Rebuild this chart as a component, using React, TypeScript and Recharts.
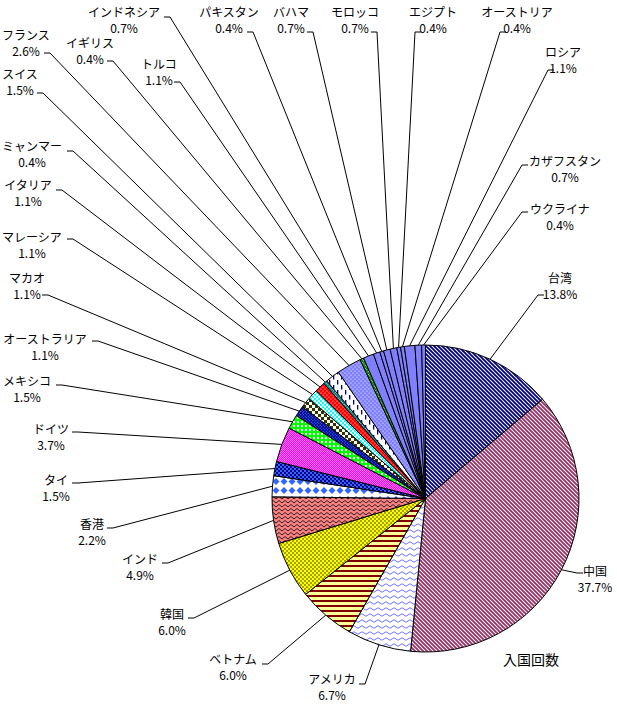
import { PieChart, Pie, Cell } from "recharts";

// 入国回数 by country (%), clockwise from 12 o'clock
const SERIES_NAME = "入国回数";
const COUNTRIES = [
  "台湾", "中国", "アメリカ", "ベトナム", "韓国", "インド", "香港", "タイ",
  "ドイツ", "メキシコ", "オーストラリア", "マカオ", "マレーシア", "イタリア",
  "ミャンマー", "スイス", "フランス", "イギリス", "トルコ", "インドネシア",
  "パキスタン", "バハマ", "モロッコ", "エジプト", "オーストリア", "ロシア",
  "カザフスタン", "ウクライナ",
];
const SHARES = [
  13.8, 37.7, 6.7, 6.0, 6.0, 4.9, 2.2, 1.5,
  3.7, 1.5, 1.1, 1.1, 1.1, 1.1,
  0.4, 1.5, 2.6, 0.4, 1.1, 0.7,
  0.4, 0.7, 0.7, 0.4, 0.4, 1.1,
  0.7, 0.4,
];

const data = COUNTRIES.map((name, i) => ({ name, value: SHARES[i] }));

const FILLS = [
  "url(#p-taiwan)", "url(#p-china)", "url(#p-usa)", "url(#p-vn)", "url(#p-kr)",
  "url(#p-in)", "url(#p-hk)", "url(#p-th)", "url(#p-de)", "url(#p-mx)",
  "url(#p-au)", "url(#p-mo)", "url(#p-my)", "url(#p-it)", "url(#p-mm)",
  "url(#p-ch)", "url(#p-fr)", "url(#p-uk)",
];
const PLAIN = "#8080FF";

// label block: text centre x, first line y, start of leader (kx, ky), text side of the tick
const LABELS = [
  { x: 560, y: 277, kx: 538, ky: 295, side: "R" },
  { x: 595, y: 570, kx: 577, ky: 573, side: "R" },
  { x: 332, y: 678, kx: 365, ky: 684, side: "L" },
  { x: 233, y: 658, kx: 268, ky: 664, side: "L" },
  { x: 172, y: 613, kx: 194, ky: 618, side: "L" },
  { x: 140, y: 558, kx: 168, ky: 563, side: "L" },
  { x: 92, y: 523, kx: 113, ky: 528, side: "L" },
  { x: 56, y: 479, kx: 78, ky: 483, side: "L" },
  { x: 51, y: 428, kx: 78, ky: 432, side: "L" },
  { x: 27, y: 380, kx: 62, ky: 385, side: "L" },
  { x: 45, y: 338, kx: 98, ky: 341, side: "L" },
  { x: 27, y: 277, kx: 48, ky: 295, side: "L" },
  { x: 32, y: 236, kx: 73, ky: 239, side: "L" },
  { x: 28, y: 184, kx: 62, ky: 190, side: "L" },
  { x: 32, y: 145, kx: 73, ky: 151, side: "L" },
  { x: 20, y: 73, kx: 43, ky: 93, side: "L" },
  { x: 26, y: 34, kx: 50, ky: 53, side: "L" },
  { x: 90, y: 42, kx: 113, ky: 61, side: "L" },
  { x: 159, y: 63, kx: 180, ky: 82, side: "L" },
  { x: 124, y: 11, kx: 170, ky: 17, side: "L" },
  { x: 229, y: 11, kx: 253, ky: 32, side: "L" },
  { x: 291, y: 11, kx: 313, ky: 32, side: "L" },
  { x: 355, y: 11, kx: 377, ky: 32, side: "L" },
  { x: 433, y: 11, kx: 415, ky: 32, side: "R" },
  { x: 517, y: 11, kx: 500, ky: 32, side: "R" },
  { x: 563, y: 51, kx: 548, ky: 70, side: "R" },
  { x: 565, y: 160, kx: 522, ky: 165, side: "R" },
  { x: 560, y: 208, kx: 522, ky: 212, side: "R" },
];

const FONT = "'Noto Sans CJK JP', sans-serif";
const RAD = Math.PI / 180;

const renderLabel = (p: any) => {
  const L = LABELS[p.index];
  const ex = p.cx + p.outerRadius * Math.cos(-p.midAngle * RAD);
  const ey = p.cy + p.outerRadius * Math.sin(-p.midAngle * RAD);
  const tx = L.side === "L" ? L.kx - 6 : L.kx + 6;
  return (
    <g key={`lbl-${p.index}`}>
      <polyline
        points={`${tx},${L.ky} ${L.kx},${L.ky} ${ex},${ey}`}
        fill="none"
        stroke="#000"
        strokeWidth={1}
      />
      <text x={L.x} y={L.y} textAnchor="middle" dominantBaseline="central"
        fontFamily={FONT} fontSize={12} fill="#000">
        {p.name}
      </text>
      <text x={L.x} y={L.y + 16} textAnchor="middle" dominantBaseline="central"
        fontFamily={FONT} fontSize={12} fill="#000">
        {`${Number(p.value).toFixed(1)}%`}
      </text>
    </g>
  );
};

const Dots = ({ id, bg, fg, size = 4, r = 0.7 }: any) => (
  <pattern id={id} width={size} height={size} patternUnits="userSpaceOnUse">
    <rect width={size} height={size} fill={bg} />
    <circle cx={size / 4} cy={size / 4} r={r} fill={fg} />
    <circle cx={(3 * size) / 4} cy={(3 * size) / 4} r={r} fill={fg} />
  </pattern>
);

const Checker = ({ id, a, b, size }: any) => (
  <pattern id={id} width={size * 2} height={size * 2} patternUnits="userSpaceOnUse">
    <rect width={size * 2} height={size * 2} fill={b} />
    <rect width={size} height={size} fill={a} />
    <rect x={size} y={size} width={size} height={size} fill={a} />
  </pattern>
);

const Diag = ({ id, color }: any) => (
  <pattern id={id} width={4} height={4} patternUnits="userSpaceOnUse">
    <rect width={4} height={4} fill="#fff" />
    <path d="M-1,-1 L5,5 M-1,3 L1,5 M3,-1 L5,1" stroke={color} strokeWidth={1.9} />
  </pattern>
);

export default function App() {
  return (
    <div style={{ width: 617, height: 704, background: "#fff" }}>
      <style>{"body{margin:0;background:#fff}"}</style>
      <PieChart width={617} height={704} margin={{ top: 0, right: 0, bottom: 0, left: 0 }}>
        <defs>
          <Diag id="p-taiwan" color="#000080" />
          <Diag id="p-china" color="#993366" />
          <pattern id="p-usa" width={8} height={6} patternUnits="userSpaceOnUse">
            <rect width={8} height={6} fill="#fff" />
            <path d="M0,3 Q2,0.5 4,3 T8,3" fill="none" stroke="#7070FF" strokeWidth={1} />
          </pattern>
          <pattern id="p-vn" width={5} height={5} patternUnits="userSpaceOnUse">
            <rect width={5} height={5} fill="#FFFF99" />
            <rect y={0} width={5} height={2} fill="#800000" />
          </pattern>
          <Dots id="p-kr" bg="#FFFF00" fg="#000" size={4} r={0.7} />
          <pattern id="p-in" width={6} height={4} patternUnits="userSpaceOnUse">
            <rect width={6} height={4} fill="#FF8080" />
            <path d="M0,3 L3,0.5 L6,3" fill="none" stroke="#222" strokeWidth={1} />
          </pattern>
          <pattern id="p-hk" width={8} height={9} patternUnits="userSpaceOnUse">
            <rect width={8} height={9} fill="#fff" />
            <polygon points="4,1 7.5,4.5 4,8 0.5,4.5" fill="#3366FF" />
          </pattern>
          <Checker id="p-th" a="#000080" b="#3366FF" size={2} />
          <Dots id="p-de" bg="#FF00FF" fg="#fff" size={2} r={0.45} />
          <pattern id="p-mx" width={4} height={4} patternUnits="userSpaceOnUse">
            <rect width={4} height={4} fill="#00FF00" />
            <rect x={1} y={1} width={2} height={2} fill="#fff" />
          </pattern>
          <Dots id="p-au" bg="#000080" fg="#3366FF" size={3} r={0.7} />
          <Checker id="p-mo" a="#333300" b="#fff" size={3} />
          <Checker id="p-my" a="#00FFFF" b="#fff" size={2} />
          <Dots id="p-it" bg="#FF0000" fg="#fff" size={4} r={0.6} />
          <Dots id="p-mm" bg="#008080" fg="#fff" size={3} r={0.5} />
          <pattern id="p-ch" width={8} height={10} patternUnits="userSpaceOnUse">
            <rect width={8} height={10} fill="#fff" />
            <rect x={1} y={0} width={1.3} height={4.5} fill="#000080" />
            <rect x={5} y={5} width={1.3} height={4.5} fill="#000080" />
          </pattern>
          <Dots id="p-fr" bg="#8080FF" fg="#fff" size={4} r={0.6} />
          <Dots id="p-uk" bg="#008000" fg="#fff" size={3} r={0.5} />
        </defs>
        <Pie
          data={data}
          dataKey="value"
          nameKey="name"
          cx={425.5}
          cy={498.5}
          innerRadius={0}
          outerRadius={153.5}
          startAngle={90}
          endAngle={-270}
          stroke="#000"
          strokeWidth={1}
          label={renderLabel}
          labelLine={false}
          isAnimationActive={false}
        >
          {data.map((_, i) => (
            <Cell key={`cell-${i}`} fill={FILLS[i] ?? PLAIN} stroke="#000" />
          ))}
        </Pie>
        <text x={531} y={659} textAnchor="middle" dominantBaseline="central"
          fontFamily={FONT} fontSize={14} fill="#000">
          {SERIES_NAME}
        </text>
      </PieChart>
    </div>
  );
}
